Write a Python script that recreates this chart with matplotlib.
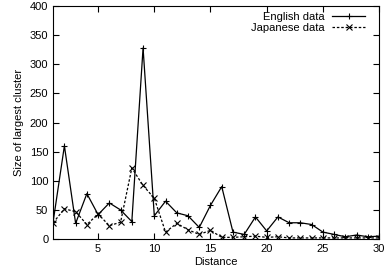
import matplotlib
matplotlib.use("Agg")
import matplotlib.pyplot as plt

plt.rcParams['font.family'] = ['Liberation Sans', 'DejaVu Sans']

distance = list(range(1, 31))
english = [30, 160, 27, 78, 42, 62, 50, 30, 328, 40,
           65, 45, 40, 20, 58, 90, 12, 8, 38, 14,
           38, 28, 28, 25, 12, 8, 4, 7, 4, 5]
japanese = [28, 52, 47, 25, 43, 23, 29, 122, 92, 70,
            12, 27, 16, 8, 15, 3, 3, 4, 5, 3,
            4, 2, 2, 2, 2, 2, 2, 2, 2, 2]

fig = plt.figure(figsize=(3.88, 2.72), dpi=100)
ax = fig.add_axes([0.137, 0.121, 0.840, 0.857])

ax.plot(distance, english, color="black", lw=0.9, marker="+", ms=5, mew=0.8,
        label="English data")
ax.plot(distance, japanese, color="black", lw=0.9, ls=(0, (2, 1.5)), marker="x",
        ms=4, mew=0.8, label="Japanese data")

ax.set_xlim(1, 30)
ax.set_ylim(0, 400)
ax.set_xticks([5, 10, 15, 20, 25, 30])
ax.set_yticks(range(0, 401, 50))
ax.tick_params(direction="in", top=True, right=True, labelsize=8, length=4, width=0.8)
ax.set_xlabel("Distance", fontsize=8, labelpad=2)
ax.set_ylabel("Size of largest cluster", fontsize=8, labelpad=4)
for s in ax.spines.values():
    s.set_linewidth(0.8)

ax.legend(loc="upper right", bbox_to_anchor=(0.975, 1.0), frameon=False,
          markerfirst=False, fontsize=8, handlelength=3, borderaxespad=0.1,
          labelspacing=0.1, handletextpad=0.7)

fig.savefig("out.png", dpi=100)
